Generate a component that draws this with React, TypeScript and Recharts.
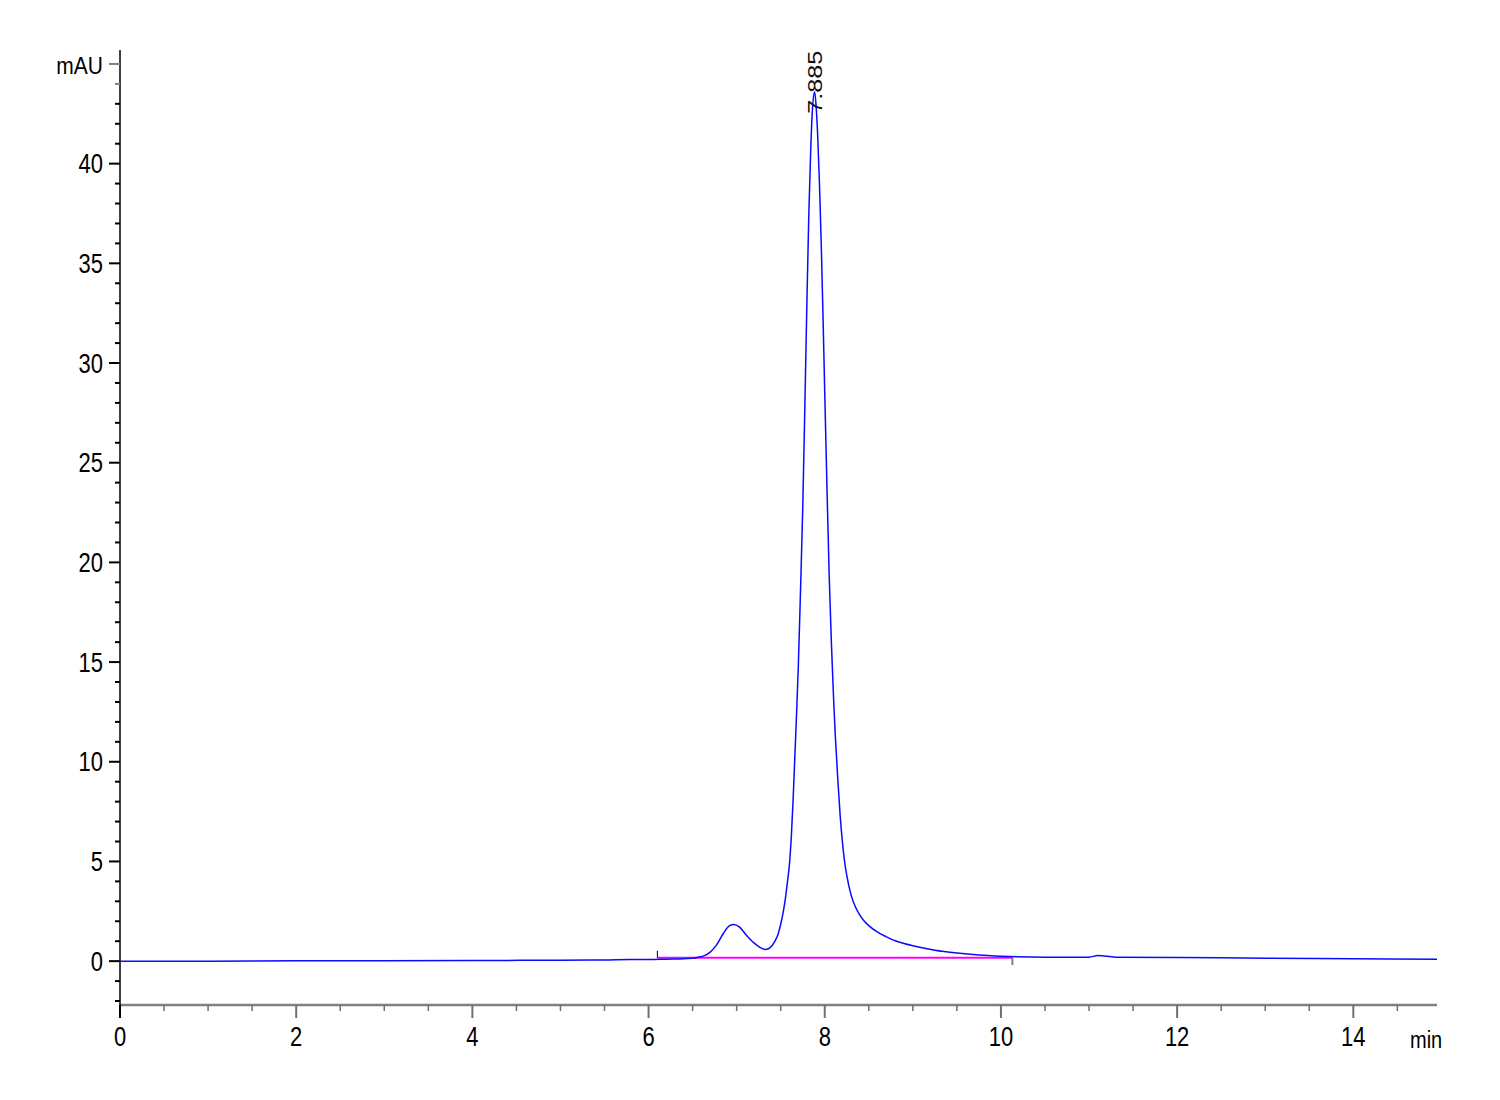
import React from "react";
import { LineChart, Line, XAxis, YAxis, ReferenceLine, ReferenceDot } from "recharts";

// retention time (min)
const times = [
  0, 0.5, 1, 2, 3, 4, 5, 5.5, 5.8, 6.0, 6.2, 6.4, 6.55, 6.62, 6.7, 6.77, 6.85, 6.92, 6.97, 7.03,
  7.11, 7.2, 7.28, 7.33, 7.38, 7.43, 7.47, 7.5, 7.53, 7.55, 7.58, 7.6, 7.62, 7.64, 7.66, 7.68, 7.7,
  7.725, 7.75, 7.775, 7.8, 7.82, 7.84, 7.86, 7.885,
  7.9, 7.92, 7.94, 7.96, 7.98, 8.0, 8.025, 8.05, 8.075, 8.1, 8.12, 8.15, 8.175, 8.2, 8.225, 8.25,
  8.3, 8.35, 8.4, 8.45, 8.5, 8.6, 8.7, 8.8, 8.9, 9.0, 9.25, 9.5, 9.75, 10.0,
  10.5, 11.0, 11.1, 11.3, 12.0, 13.0, 14.0, 14.95,
];
// absorbance (mAU)
const mau = [
  0.0, 0.0, 0.0, 0.02, 0.02, 0.03, 0.05, 0.06, 0.08, 0.08, 0.1, 0.12, 0.18, 0.25, 0.45, 0.8, 1.4, 1.78, 1.84, 1.72,
  1.3, 0.9, 0.65, 0.59, 0.68, 0.97, 1.35, 1.85, 2.5, 3.05, 4.1, 4.9, 6.2, 8.0, 10.2, 12.4, 14.8,
  18.6, 22.7, 28.0, 33.6, 37.6, 40.6, 42.7, 43.6,
  43.0, 41.4, 39.0, 36.0, 32.4, 28.5, 23.8, 19.4, 16.0, 13.2, 11.3, 9.0, 7.3, 6.0, 5.0, 4.3,
  3.3, 2.7, 2.3, 2.0, 1.78, 1.45, 1.22, 1.02, 0.88, 0.77, 0.55, 0.41, 0.31, 0.25,
  0.2, 0.2, 0.28, 0.2, 0.18, 0.15, 0.12, 0.1,
];

// integration baseline
const baseTimes = [6.1, 10.13];
const baseValues = [0.17, 0.17];
const baseStartMark = [0.17, 0.52];
const baseEndMark = [0.17, -0.2];

// peak annotation
const peakTime = 7.885;
const peakValue = 43.6;
const peakLabel = "7.885";

// axes
const xDomain = [0, 14.95];
const yDomain = [-2.2, 45.7];
const xTicks = [0, 0.5, 1, 1.5, 2, 2.5, 3, 3.5, 4, 4.5, 5, 5.5, 6, 6.5, 7, 7.5, 8, 8.5, 9, 9.5, 10, 10.5, 11, 11.5, 12, 12.5, 13, 13.5, 14, 14.5];
const xLabelTicks = [0, 2, 4, 6, 8, 10, 12, 14];
const yTicks = [-2, -1, 0, 1, 2, 3, 4, 5, 6, 7, 8, 9, 10, 11, 12, 13, 14, 15, 16, 17, 18, 19, 20, 21, 22, 23, 24, 25, 26, 27, 28, 29, 30, 31, 32, 33, 34, 35, 36, 37, 38, 39, 40, 41, 42, 43, 44, 45];
const yLabelTicks = [0, 5, 10, 15, 20, 25, 30, 35, 40];
const yUnitTick = 45;
const yUnit = "mAU";
const xUnit = "min";

const FONT = "'Liberation Sans', Arial, sans-serif";

const data = times.map((t, i) => ({ t, v: mau[i] }));
const baseData = baseTimes.map((t, i) => ({ t, b: baseValues[i] }));

const XTick = (props: any) => {
  const { x, y, payload } = props;
  const val = payload.value;
  const major = xLabelTicks.includes(val);
  const len = major ? 13 : 6;
  const color = val === 0 ? "#000" : "#707070";
  return (
    <g>
      <line x1={x} x2={x} y1={y} y2={y + len} stroke={color} strokeWidth={major ? 2 : 1.5} />
      {major && (
        <text
          transform={`translate(${x},${y + 41}) scale(1,1.22)`}
          textAnchor="middle"
          fontFamily={FONT}
          fontSize={22}
          fill="#000"
        >
          {val}
        </text>
      )}
    </g>
  );
};

const YTick = (props: any) => {
  const { x, y, payload } = props;
  const val = payload.value;
  const major = yLabelTicks.includes(val) || val === yUnitTick;
  const len = major ? 11 : 5;
  const color = val >= 44 ? "#808080" : "#000";
  return (
    <g>
      <line x1={x - len} x2={x} y1={y} y2={y} stroke={color} strokeWidth={2} />
      {yLabelTicks.includes(val) && (
        <text
          transform={`translate(${x - 17},${y + 9.6}) scale(1,1.22)`}
          textAnchor="end"
          fontFamily={FONT}
          fontSize={22}
          fill="#000"
        >
          {val}
        </text>
      )}
      {val === yUnitTick && (
        <text
          transform={`translate(${x - 17},${y + 10}) scale(1,1.15)`}
          textAnchor="end"
          fontFamily={FONT}
          fontSize={21}
          fill="#000"
        >
          {yUnit}
        </text>
      )}
    </g>
  );
};

const PeakLabel = (props: any) => {
  const vb = props.viewBox || {};
  const cx = vb.x + (vb.width || 0) / 2;
  const cy = vb.y + (vb.height || 0) / 2;
  return (
    <text
      transform={`translate(${cx + 7},${cy + 22}) rotate(-90) scale(1.2,1)`}
      textAnchor="start"
      fontFamily={FONT}
      fontSize={21}
      fill="#111"
    >
      {peakLabel}
    </text>
  );
};

export default function App() {
  return (
    <div style={{ position: "absolute", left: 0, top: 0, width: 1500, height: 1100, background: "#fff" }}>
      <LineChart width={1500} height={1100} data={data} margin={{ top: 50, right: 63, left: 0, bottom: 0 }}>
        <XAxis
          dataKey="t"
          type="number"
          domain={xDomain}
          ticks={xTicks}
          interval={0}
          height={95}
          tickSize={0}
          tickMargin={0}
          tickLine={false}
          axisLine={{ stroke: "#808080", strokeWidth: 2.5 }}
          tick={<XTick />}
          allowDataOverflow
        />
        <YAxis
          type="number"
          domain={yDomain}
          ticks={yTicks}
          interval={0}
          width={120}
          tickSize={0}
          tickMargin={0}
          tickLine={false}
          axisLine={{ stroke: "#000", strokeWidth: 1.5 }}
          tick={<YTick />}
          allowDataOverflow
        />
        <Line
          data={baseData}
          dataKey="b"
          type="linear"
          stroke="#ff00ff"
          strokeWidth={2}
          dot={false}
          activeDot={false}
          isAnimationActive={false}
        />
        <ReferenceLine
          segment={[{ x: baseTimes[0], y: baseStartMark[0] }, { x: baseTimes[0], y: baseStartMark[1] }]}
          stroke="#000"
          strokeWidth={1}
        />
        <ReferenceLine
          segment={[{ x: baseTimes[1], y: baseEndMark[0] }, { x: baseTimes[1], y: baseEndMark[1] }]}
          stroke="#808080"
          strokeWidth={2}
        />
        <Line
          dataKey="v"
          type="monotone"
          stroke="#0a0aff"
          strokeWidth={1.5}
          dot={false}
          activeDot={false}
          isAnimationActive={false}
        />
        <ReferenceDot x={peakTime} y={peakValue} r={0} fill="none" stroke="none" label={<PeakLabel />} />
        <text x={1410} y={1048} fontFamily={FONT} fontSize={20} fill="#000" transform="translate(0,-157) scale(1,1.15)">
          {xUnit}
        </text>
      </LineChart>
    </div>
  );
}
